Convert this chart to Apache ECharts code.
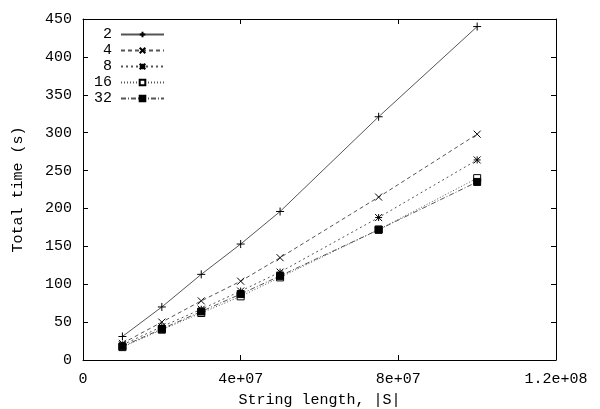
<!DOCTYPE html>
<html lang="en">
<head>
    <meta charset="UTF-8">
    <title>Total time vs string length</title>
    <style>
        * { margin: 0; padding: 0; box-sizing: border-box; }
        body { background: #fff; }
        #chart { width: 600px; height: 409px; }
    </style>
    <script src="https://cdn.jsdelivr.net/npm/echarts@6.0.0/dist/echarts.min.js"></script>
</head>
<body>
    <div id="chart"></div>
    <script>
        // string lengths |S|
        const sizes = [1e7, 2e7, 3e7, 4e7, 5e7, 7.5e7, 1e8];
        const names = ['2', '4', '8', '16', '32'];
        // total time (s) per series
        const t2  = [31, 70, 113, 153, 196, 321, 440];
        const t4  = [22, 50, 78, 104, 135, 215, 298];
        const t8  = [20, 44, 67, 91, 116, 188, 264];
        const t16 = [17, 40, 62, 84, 109, 172, 240];
        const t32 = [18, 41, 64, 87, 111, 172, 235];

        const font = 'Liberation Mono';
        const plus = 'path://M5 0L5 10M0 5L10 5';
        const cross = 'path://M0 0L10 10M10 0L0 10';
        const star = 'path://M5 0L5 10M0 5L10 5M0 0L10 10M10 0L0 10';

        function sci(v) {
            if (v === 0) return '0';
            const e = Math.floor(Math.log10(v));
            const m = Math.round(v / Math.pow(10, e) * 10) / 10;
            return m + 'e+' + String(e).padStart(2, '0');
        }

        function mk(name, vals, symbol, size, dash, fill) {
            return {
                name: name,
                type: 'line',
                xAxisIndex: 0,
                yAxisIndex: 0,
                data: sizes.map((s, i) => [s, vals[i]]),
                symbol: symbol,
                symbolSize: size,
                showAllSymbol: true,
                lineStyle: { color: '#555', width: 1, type: dash },
                itemStyle: { color: fill, borderColor: '#000', borderWidth: 1 },
                emphasis: { disabled: true },
                animation: false
            };
        }

        const chart = echarts.init(document.getElementById('chart'));
        const axisLine = { show: true, onZero: false, lineStyle: { color: '#000', width: 1 } };
        const tick = { show: true, inside: true, length: 5, lineStyle: { color: '#000' } };

        chart.setOption({
            animation: false,
            grid: { left: 83, right: 44, top: 19, bottom: 49, outerBoundsMode: 'none' },
            legend: {
                orient: 'vertical',
                left: 89,
                top: 22,
                align: 'right',
                itemWidth: 43,
                itemHeight: 7,
                itemGap: 1,
                data: names,
                textStyle: { fontFamily: font, fontSize: 15, color: '#000', width: 18, align: 'right', padding: [0, 4, 0, 0] }
            },
            xAxis: [{
                type: 'value',
                min: 0,
                max: 1.2e8,
                interval: 4e7,
                name: 'String length, |S|',
                nameLocation: 'middle',
                nameGap: 33,
                nameTextStyle: { fontFamily: font, fontSize: 15, color: '#000' },
                axisLine: axisLine,
                axisTick: tick,
                splitLine: { show: false },
                axisLabel: { fontFamily: font, fontSize: 15, color: '#000', margin: 12, formatter: sci }
            }, {
                type: 'value',
                position: 'top',
                min: 0,
                max: 1.2e8,
                interval: 4e7,
                axisLine: axisLine,
                axisTick: tick,
                splitLine: { show: false },
                axisLabel: { show: false }
            }],
            yAxis: [{
                type: 'value',
                min: 0,
                max: 450,
                interval: 50,
                name: 'Total time (s)',
                nameLocation: 'middle',
                nameGap: 57,
                nameTextStyle: { fontFamily: font, fontSize: 15, color: '#000' },
                axisLine: axisLine,
                axisTick: tick,
                splitLine: { show: false },
                axisLabel: { fontFamily: font, fontSize: 15, color: '#000', margin: 11 }
            }, {
                type: 'value',
                position: 'right',
                min: 0,
                max: 450,
                interval: 50,
                axisLine: axisLine,
                axisTick: tick,
                splitLine: { show: false },
                axisLabel: { show: false }
            }],
            series: [
                mk('2', t2, plus, 8, 'solid', '#000'),
                mk('4', t4, cross, 7, [4, 3], '#000'),
                mk('8', t8, star, 7, [2, 3], '#000'),
                mk('16', t16, 'rect', 7, [1, 2], '#fff'),
                mk('32', t32, 'rect', 7, [5, 2, 1, 2], '#000')
            ]
        });
    </script>
</body>
</html>
